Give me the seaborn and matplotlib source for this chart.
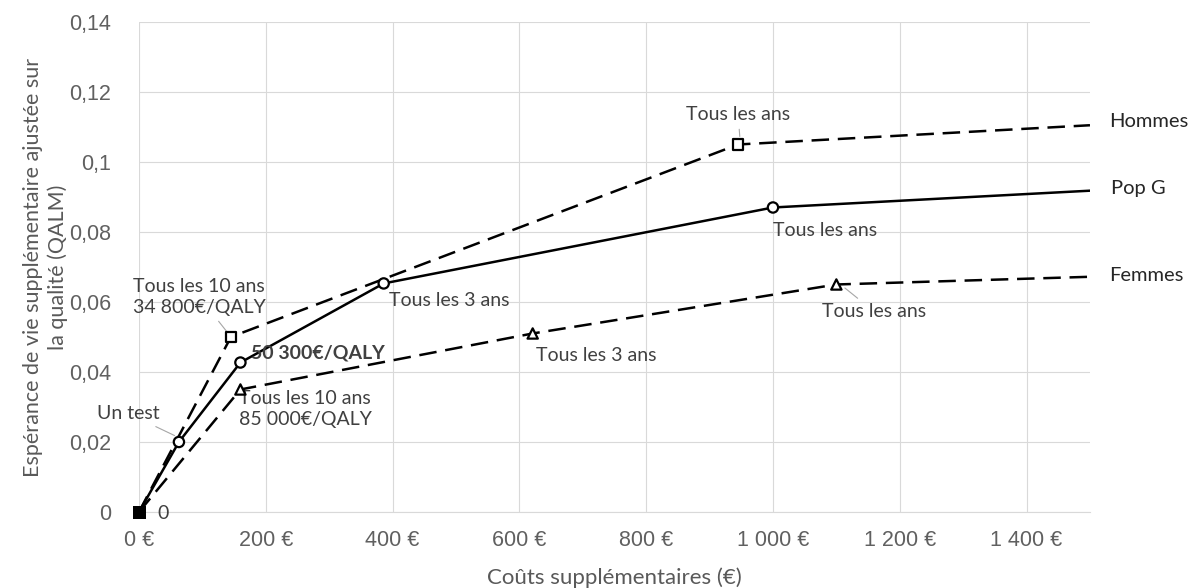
import numpy as np
import matplotlib
matplotlib.use("Agg")
import matplotlib.pyplot as plt
import pandas as pd
import seaborn as sns

# data (cost in €, gain in QALM)
series = ["Hommes", "Pop G", "Femmes"]
hommes_cost = [0, 145, 945, 1500]
hommes_qalm = [0, 0.050, 0.105, 0.1105]
popg_cost = [0, 63, 160, 386, 1000, 1500]
popg_qalm = [0, 0.020, 0.0427, 0.0653, 0.087, 0.0918]
femmes_cost = [0, 160, 621, 1100, 1500]
femmes_qalm = [0, 0.035, 0.051, 0.065, 0.0672]
# last point of each series is the line running off the right edge (no marker)

x_ticks = [0, 200, 400, 600, 800, 1000, 1200, 1400]
x_tick_labels = ["0 €", "200 €", "400 €", "600 €", "800 €", "1 000 €", "1 200 €", "1 400 €"]
y_ticks = [0, 0.02, 0.04, 0.06, 0.08, 0.1, 0.12, 0.14]
y_tick_labels = ["0", "0,02", "0,04", "0,06", "0,08", "0,1", "0,12", "0,14"]

sns.set_style("whitegrid", {"grid.color": "#d9d9d9", "axes.edgecolor": "#d9d9d9"})
plt.rcParams["font.family"] = ["Liberation Sans", "DejaVu Sans"]

rows = []
for name, xs, ys in [("Hommes", hommes_cost, hommes_qalm),
                     ("Pop G", popg_cost, popg_qalm),
                     ("Femmes", femmes_cost, femmes_qalm)]:
    for i, (x, y) in enumerate(zip(xs, ys)):
        rows.append({"serie": name, "cout": x, "qalm": y, "marque": i < len(xs) - 1})
df = pd.DataFrame(rows)

fig = plt.figure(figsize=(11.95, 5.88), dpi=100)
ax = fig.add_axes([0.1163, 0.1293, 0.7958, 0.8333])

sns.lineplot(data=df, x="cout", y="qalm", hue="serie", style="serie",
             hue_order=series, style_order=series,
             palette=["black", "black", "black"],
             dashes={"Hommes": (7, 3.5), "Pop G": "", "Femmes": (7, 3.5)},
             linewidth=1.8, legend=False, ax=ax, sort=False, estimator=None, zorder=3)
marks = df[df["marque"] & (df["cout"] > 0)]
sns.scatterplot(data=marks, x="cout", y="qalm", style="serie",
                style_order=series, markers={"Hommes": "s", "Pop G": "o", "Femmes": "^"},
                facecolor="white", edgecolor="black", linewidth=1.6, s=55,
                legend=False, ax=ax, zorder=4)
# all three series start at the origin: markers pile up into a dark square
origin = df[df["cout"] == 0]
sns.scatterplot(data=origin, x="cout", y="qalm", marker="s", color="black",
                edgecolor="black", s=65, legend=False, ax=ax, zorder=5, clip_on=False)

ax.set_xlim(0, 1500)
ax.set_ylim(0, 0.14)
ax.set_xticks(x_ticks)
ax.set_xticklabels(x_tick_labels, family=["Liberation Sans", "DejaVu Sans"])
ax.set_yticks(y_ticks)
ax.set_yticklabels(y_tick_labels, family=["Liberation Sans", "DejaVu Sans"])
ax.tick_params(axis="both", colors="#606060", labelsize=15.5, length=0)
ax.tick_params(axis="x", pad=13)
ax.tick_params(axis="y", pad=20)
for s in ["top", "right", "left"]:
    ax.spines[s].set_visible(False)
ax.spines["bottom"].set_color("#d9d9d9")

lab = dict(family=["Lato", "DejaVu Sans"], color="#595959")
ax.set_xlabel("Coûts supplémentaires (€)", fontsize=16, labelpad=12, **lab)
ax.set_ylabel("Espérance de vie supplémentaire ajustée sur\nla qualité (QALM)",
              fontsize=15.5, labelpad=1, linespacing=1.25, **lab)

ann = dict(family=["Lato", "DejaVu Sans"], color="#404040", fontsize=14)
lead = dict(arrowstyle="-", color="#a6a6a6", lw=0.8)

ax.annotate("Tous les 10 ans\n34 800€/QALY", xy=(143, 0.0505), xytext=(95, 0.0615),
            ha="center", va="center", linespacing=1.3, arrowprops=lead, **ann)
ax.text(177, 0.0455, "50 300€/QALY", ha="left", va="center", fontweight="bold", **ann)
ax.text(158, 0.0295, "Tous les 10 ans\n85 000€/QALY", ha="left", va="center",
        linespacing=1.3, **ann)
ax.annotate("Un test", xy=(60, 0.0215), xytext=(33, 0.0281), ha="right", va="center",
            arrowprops=lead, annotation_clip=False, **ann)
ax.text(29, -0.0003, "0", ha="left", va="center", **ann)
ax.text(395, 0.0603, "Tous les 3 ans", ha="left", va="center", **ann)
ax.text(626, 0.0446, "Tous les 3 ans", ha="left", va="center", **ann)
ax.annotate("Tous les ans", xy=(948, 0.1065), xytext=(945, 0.1135), ha="center",
            va="center", arrowprops=lead, **ann)
ax.text(1000, 0.0805, "Tous les ans", ha="left", va="center", **ann)
ax.annotate("Tous les ans", xy=(1110, 0.0645), xytext=(1160, 0.0572), ha="center",
            va="center", arrowprops=lead, **ann)

side = dict(family=["Lato", "DejaVu Sans"], color="#262626", fontsize=14.5,
            transform=ax.get_yaxis_transform(), va="center", ha="left", clip_on=False)
ax.text(1.0205, 0.1115, "Hommes", **side)
ax.text(1.0225, 0.0925, "Pop G", **side)
ax.text(1.0205, 0.0677, "Femmes", **side)

fig.savefig("out.png", dpi=100)
